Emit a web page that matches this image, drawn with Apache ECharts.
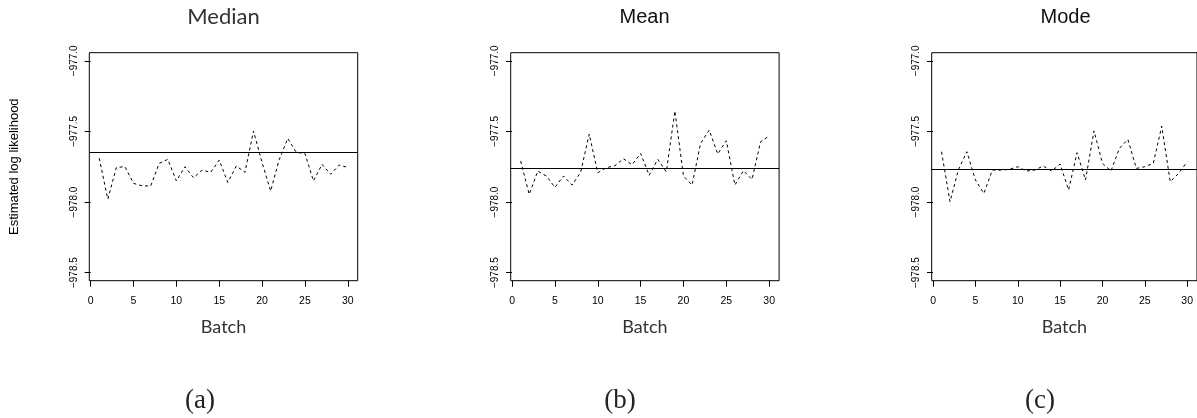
<!DOCTYPE html>
<html>
<head>
<meta charset="utf-8">
<script src="https://cdn.jsdelivr.net/npm/echarts@6/dist/echarts.min.js"></script>
<style>
html, body { margin: 0; padding: 0; background: #fff; }
#chart { width: 1197px; height: 418px; }
</style>
</head>
<body>
<div id="chart"></div>
<script>
// batch index on the x axis
const batches = [1, 2, 3, 4, 5, 6, 7, 8, 9, 10, 11, 12, 13, 14, 15,
  16, 17, 18, 19, 20, 21, 22, 23, 24, 25, 26, 27, 28, 29, 30];

// estimated log likelihood per batch
const medianVals = [-977.69, -977.98, -977.755, -977.75, -977.868, -977.885, -977.887, -977.726, -977.698, -977.851,
  -977.75, -977.828, -977.774, -977.79, -977.703, -977.861, -977.745, -977.79, -977.498, -977.72,
  -977.922, -977.70, -977.55, -977.649, -977.656, -977.851, -977.733, -977.804, -977.738, -977.755];
const meanVals = [-977.71, -977.946, -977.781, -977.816, -977.896, -977.816, -977.88, -977.79, -977.519, -977.793,
  -977.757, -977.743, -977.694, -977.736, -977.656, -977.811, -977.698, -977.786, -977.356, -977.816,
  -977.88, -977.585, -977.491, -977.66, -977.566, -977.88, -977.778, -977.84, -977.573, -977.533];
const modeVals = [-977.644, -977.998, -977.77, -977.644, -977.844, -977.939, -977.774, -977.774, -977.769, -977.75,
  -977.781, -977.774, -977.745, -977.781, -977.731, -977.915, -977.651, -977.844, -977.496, -977.726,
  -977.781, -977.62, -977.557, -977.762, -977.75, -977.726, -977.463, -977.856, -977.797, -977.715];

// horizontal reference level in each panel
const refLevels = [-977.651, -977.757, -977.767];

const panelTitles = ["Median", "Mean", "Mode"];
const panelTags = ["(a)", "(b)", "(c)"];
const xTicks = [0, 5, 10, 15, 20, 25, 30];
const yTicks = [-978.5, -978.0, -977.5, -977.0];

const panelValues = [medianVals, meanVals, modeVals];
const gridLeft = [89.3, 510.7, 931.7];

let myChart = echarts.init(document.getElementById("chart"));

const grids = gridLeft.map((l) => ({
  left: l, top: 52.7, width: 268.4, height: 228,
  show: true, borderColor: "#000", borderWidth: 1,
  backgroundColor: "transparent"
}));

const xAxes = gridLeft.map((l, i) => ({
  type: "value", gridIndex: i, min: -0.16, max: 31.16,
  name: "Batch", nameLocation: "middle", nameGap: 37,
  nameTextStyle: { fontFamily: "Lato", fontSize: 18, color: "#333" },
  splitLine: { show: false },
  axisLine: { show: false },
  axisTick: { show: true, length: 6, inside: false, customValues: xTicks, lineStyle: { color: "#000" } },
  axisLabel: { customValues: xTicks, fontFamily: "Liberation Sans", fontSize: 10.5, color: "#000", margin: 15 }
}));

const yAxes = gridLeft.map((l, i) => ({
  type: "value", gridIndex: i, min: -978.557, max: -976.943,
  name: i === 0 ? "Estimated log likelihood" : "",
  nameLocation: "middle", nameGap: 68,
  nameTextStyle: { fontFamily: "Liberation Sans", fontSize: 13, color: "#000" },
  splitLine: { show: false },
  axisLine: { show: false },
  axisTick: { show: true, length: 6, customValues: yTicks, lineStyle: { color: "#000" } },
  axisLabel: {
    customValues: yTicks, rotate: 90, fontFamily: "Liberation Sans", fontSize: 10, color: "#000", margin: 10,
    formatter: (v) => v.toFixed(1).replace("-", "\u2212")
  }
}));

const setSeries = () => {
  let result = [];
  panelValues.forEach((vals, i) => {
    result.push({
      type: "line",
      xAxisIndex: i, yAxisIndex: i,
      data: batches.map((b, k) => [b, vals[k]]),
      showSymbol: false,
      lineStyle: { color: "#000", width: 1, type: [3, 3] },
      markLine: {
        silent: true, symbol: "none", label: { show: false },
        lineStyle: { color: "#000", width: 1, type: "solid" },
        data: [{ yAxis: refLevels[i] }]
      }
    });
  });
  return result;
};

const titleFonts = ["Lato", "Liberation Sans", "Liberation Sans"];
const titleSizes = [22, 20, 20];
const titleCenters = [223.5, 644.5, 1065.5];
const tagCenters = [200, 620, 1040];

const graphics = [];
panelTitles.forEach((t, i) => {
  graphics.push({
    type: "text", x: titleCenters[i], y: 17,
    style: { text: t, fontFamily: titleFonts[i], fontSize: titleSizes[i], fill: i === 0 ? "#333" : "#111", align: "center", verticalAlign: "middle" }
  });
  graphics.push({
    type: "text", x: tagCenters[i], y: 401,
    style: { text: panelTags[i], fontFamily: "Liberation Serif", fontSize: 27, fill: "#222", align: "center", verticalAlign: "middle" }
  });
});

let option = {
  animation: false,
  grid: grids,
  xAxis: xAxes,
  yAxis: yAxes,
  series: setSeries(),
  graphic: graphics
};

option && myChart.setOption(option);
</script>
</body>
</html>
